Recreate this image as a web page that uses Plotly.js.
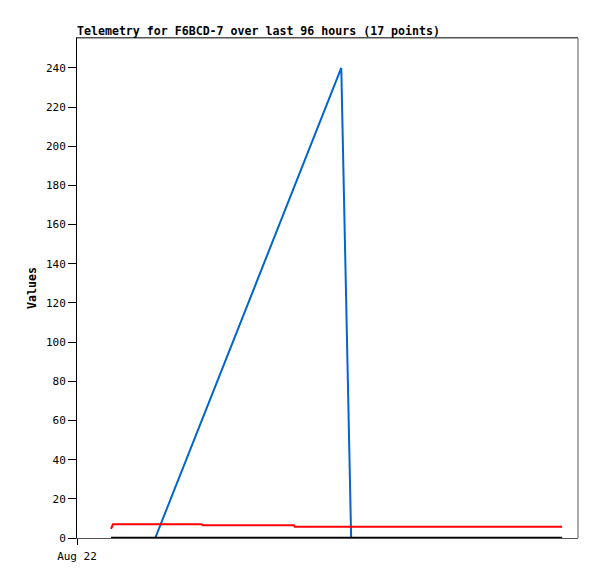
<!DOCTYPE html>
<html><head><meta charset="utf-8">
<script src="https://cdn.plot.ly/plotly-3.0.1.min.js"></script>
<style>html,body{margin:0;padding:0;background:#fff}#chart{width:597px;height:579px}</style>
</head><body><div id="chart"></div>
<script>
const times = [
  "2024-08-22 07:15","2024-08-22 07:39","2024-08-22 16:39","2024-08-23 02:33",
  "2024-08-23 02:45","2024-08-23 13:15","2024-08-23 22:09","2024-08-23 22:21",
  "2024-08-24 08:15","2024-08-24 10:21","2024-08-24 19:15","2024-08-25 01:15",
  "2024-08-25 07:15","2024-08-25 13:15","2024-08-25 19:15","2024-08-26 01:15",
  "2024-08-26 07:15"
];
const blueValues = [0,0,0,null,null,null,null,null,240,0,0,0,0,0,0,0,0];
const redValues = [4.6,7.0,7.0,7.0,6.5,6.5,6.5,5.8,5.8,5.8,5.8,5.8,5.8,5.8,5.8,5.8,5.8];
const blackValues = [0,0,0,0,0,0,0,0,0,0,0,0,0,0,0,0,0];
const xTickVals = ["2024-08-22 00:00"];
const xTickText = ["Aug 22"];
const yTickVals = [0,20,40,60,80,100,120,140,160,180,200,220,240];

const mono = "DejaVu Sans Mono, Liberation Mono, monospace";
const traces = [
  {x: times, y: blueValues, mode: "lines", connectgaps: true, line: {color: "#0066cc", width: 2}},
  {x: times, y: redValues, mode: "lines", line: {color: "#ff0000", width: 2}},
  {x: times, y: blackValues, mode: "lines", line: {color: "#000000", width: 2.5}}
];
const layout = {
  width: 597, height: 579,
  margin: {l: 77, r: 19, t: 38, b: 41},
  paper_bgcolor: "#fff", plot_bgcolor: "#fff",
  showlegend: false, hovermode: false,
  title: {text: "<b>Telemetry for F6BCD-7 over last 96 hours (17 points)</b>",
    x: 0, xref: "paper", xanchor: "left", y: 1 - 31/579, yref: "container", yanchor: "middle",
    font: {family: mono, size: 11.6, color: "#000"}},
  xaxis: {type: "date", range: ["2024-08-22 00:00", "2024-08-26 10:38"],
    tickvals: xTickVals, ticktext: xTickText, ticks: "outside", ticklen: 6, tickcolor: "#000",
    ticklabelstandoff: 2,
    showgrid: false, zeroline: false, showline: true, linecolor: "#555", linewidth: 1, mirror: true,
    tickfont: {family: mono, size: 11, color: "#000"}},
  yaxis: {range: [0, 255.3], tickvals: yTickVals, ticks: "outside", ticklen: 8, tickcolor: "#000",
    showgrid: false, zeroline: false, showline: true, linecolor: "#000", linewidth: 1, mirror: false,
    tickfont: {family: mono, size: 11, color: "#000"},
    title: {text: "<b>Values</b>", font: {family: mono, size: 11.6, color: "#000"}, standoff: 6}},
  shapes: [
    {type: "line", xref: "paper", yref: "paper", x0: 1, x1: 1, y0: 0, y1: 1, line: {color: "#555", width: 1}},
    {type: "line", xref: "paper", yref: "paper", x0: 0, x1: 1, y0: 1, y1: 1, line: {color: "#555", width: 1}}
  ]
};
Plotly.newPlot("chart", traces, layout, {displayModeBar: false, staticPlot: true});
</script></body></html>
